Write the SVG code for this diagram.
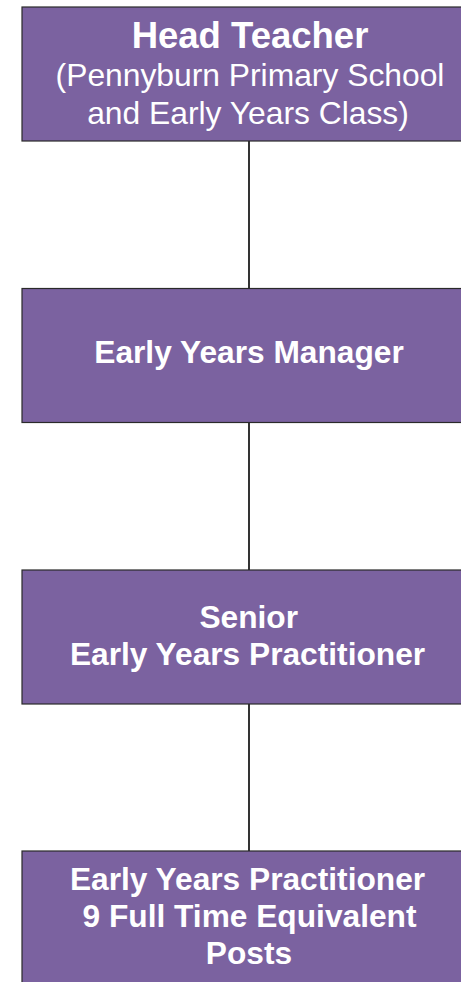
<svg xmlns="http://www.w3.org/2000/svg" width="461" height="982" viewBox="0 0 461 982">
<style>
.box{fill:#7B62A0;stroke:#2a2a2a;stroke-width:1.2}
.t{font-family:"Liberation Sans",Arial,Helvetica,sans-serif;fill:#ffffff;text-anchor:middle}
.b{font-weight:bold}
.con{stroke:#000000;stroke-width:1.6;fill:none}
</style>
<rect x="0" y="0" width="461" height="982" fill="#ffffff"/>
<g id="connectors">
<line class="con" x1="249" y1="141" x2="249" y2="288.5"/>
<line class="con" x1="249" y1="422.5" x2="249" y2="570"/>
<line class="con" x1="249" y1="704" x2="249" y2="851"/>
</g>
<g id="head-teacher">
<rect class="box" x="22" y="7" width="460" height="134"/>
<text class="t b" x="250" y="48" font-size="36.5">Head Teacher</text>
<text class="t" x="250" y="86" font-size="31.8">(Pennyburn Primary School</text>
<text class="t" x="248" y="124" font-size="31.8">and Early Years Class)</text>
</g>
<g id="early-years-manager">
<rect class="box" x="22" y="288.5" width="460" height="134"/>
<text class="t b" x="249" y="363" font-size="31.7">Early Years Manager</text>
</g>
<g id="senior-practitioner">
<rect class="box" x="22" y="570" width="460" height="134"/>
<text class="t b" x="248.7" y="627.5" font-size="31.7">Senior</text>
<text class="t b" x="247.5" y="665" font-size="31.7">Early Years Practitioner</text>
</g>
<g id="practitioners">
<rect class="box" x="22" y="851" width="460" height="140"/>
<text class="t b" x="247.5" y="890" font-size="31.7">Early Years Practitioner</text>
<text class="t b" x="249.5" y="927" font-size="31.7">9 Full Time Equivalent</text>
<text class="t b" x="249" y="964" font-size="31.7">Posts</text>
</g>
</svg>
